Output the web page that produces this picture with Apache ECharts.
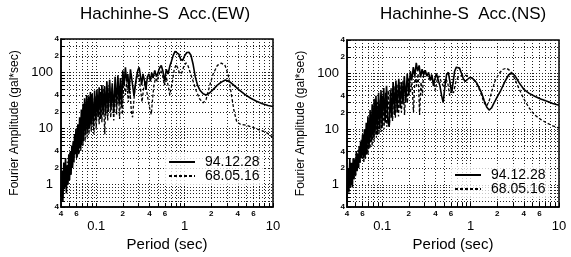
<!DOCTYPE html>
<html lang="en">
<head>
<meta charset="UTF-8">
<title>Hachinhe-S Fourier spectra</title>
<script src="https://cdn.jsdelivr.net/npm/echarts@6/dist/echarts.min.js"></script>
<style>
    html, body { margin: 0; padding: 0; background: #fff; }
    #chart { width: 571px; height: 257px; }
</style>
</head>
<body>
<div id="chart"></div>
<script>
    // 标题和图例
    var titles = ['Hachinhe-S  Acc.(EW)', 'Hachinhe-S  Acc.(NS)'];
    var seriesNames = ['94.12.28', '68.05.16'];

    // 刻度标签
    var xMinorLabels = [0.04, 0.06, 0.2, 0.4, 0.6, 2, 4, 6];
    var xMajorLabels = [0.1, 1, 10];
    var yMinorLabels = [0.4, 2, 4, 20, 40, 200, 400];
    var yMajorLabels = [1, 10, 100];
    var xRange = [0.04, 10];
    var yRange = [0.4, 400];

    // EW: [period (sec), amplitude (gal*sec)]
    var ew94 = [
        [0.040,0.6],[0.041,1.8],[0.042,0.5],[0.043,2.5],[0.044,0.9],[0.045,3],[0.046,0.7],[0.047,2.2],[0.048,1.0],[0.049,3.5],
        [0.050,1.2],[0.051,4],[0.052,1.5],[0.053,5],[0.054,2],[0.055,6],[0.056,2.5],[0.057,8],[0.058,3.5],[0.059,10],
        [0.060,3],[0.062,12],[0.063,3.5],[0.065,16],[0.066,4.5],[0.068,22],[0.069,5],[0.071,28],[0.072,6],[0.074,35],
        [0.076,8],[0.078,40],[0.080,9],[0.082,38],[0.084,10],[0.086,45],[0.088,12],[0.090,42],[0.093,11],[0.096,48],
        [0.099,14],[0.102,50],[0.105,16],[0.108,55],[0.112,15],[0.116,60],[0.120,18],[0.124,58],[0.128,17],[0.132,70],
        [0.137,20],[0.142,75],[0.147,22],[0.152,65],[0.158,19],[0.164,85],[0.170,25],[0.176,90],[0.182,28],[0.188,80],
        [0.194,24],[0.200,110],[0.207,60],[0.214,125],[0.221,70],[0.228,95],[0.236,45],[0.244,115],[0.252,80],[0.260,55],
        [0.268,38],[0.277,60],[0.286,85],[0.296,110],[0.306,125],[0.316,90],[0.327,60],[0.338,95],[0.35,75],[0.365,50],
        [0.38,85],[0.395,95],[0.41,70],[0.425,100],[0.44,80],[0.46,110],[0.48,85],[0.50,100],[0.52,120],[0.545,135],
        [0.57,105],[0.595,70],[0.62,115],[0.65,95],[0.68,130],[0.71,160],[0.74,200],[0.78,240],[0.82,245],[0.86,215],
        [0.90,175],[0.95,165],[1.00,200],[1.06,230],[1.12,232],[1.18,205],[1.25,140],[1.32,85],[1.40,60],[1.50,48],
        [1.62,42],[1.75,40],[1.9,43],[2.1,50],[2.35,60],[2.6,68],[2.9,74],[3.2,70],[3.6,60],[4.1,50],
        [4.8,41],[5.6,35],[6.5,31],[7.6,28],[8.8,26],[10,25]
    ];
    var ew68 = [
        [0.040,0.5],[0.041,1.2],[0.042,0.6],[0.043,1.6],[0.044,0.8],[0.045,2],[0.046,1],[0.047,2.6],[0.048,1.2],[0.049,3],
        [0.050,1.5],[0.051,3.8],[0.052,1.8],[0.053,4.5],[0.054,2.2],[0.055,5.5],[0.056,3],[0.057,7],[0.058,3.5],[0.060,9],
        [0.061,3],[0.063,11],[0.064,3.5],[0.066,14],[0.067,4],[0.069,18],[0.071,5],[0.073,22],[0.075,6],[0.077,26],
        [0.079,7],[0.081,30],[0.083,8],[0.085,32],[0.088,9],[0.091,35],[0.094,8],[0.097,38],[0.100,10],[0.104,40],
        [0.108,12],[0.112,45],[0.116,13],[0.120,50],[0.125,8],[0.130,55],[0.135,14],[0.140,60],[0.146,16],[0.152,55],
        [0.158,14],[0.164,65],[0.170,18],[0.177,70],[0.184,15],[0.191,60],[0.198,18],[0.206,80],[0.214,40],[0.222,70],
        [0.231,30],[0.240,55],[0.250,20],[0.258,16],[0.266,30],[0.275,55],[0.285,75],[0.295,95],[0.306,80],[0.318,50],
        [0.33,30],[0.345,55],[0.36,70],[0.375,45],[0.39,30],[0.405,22],[0.42,18],[0.435,35],[0.45,60],[0.47,80],
        [0.49,70],[0.51,90],[0.535,110],[0.56,95],[0.59,60],[0.62,85],[0.65,60],[0.68,40],[0.70,37],[0.73,70],
        [0.76,110],[0.80,140],[0.84,120],[0.88,95],[0.93,100],[0.98,130],[1.04,150],[1.10,130],[1.17,95],[1.25,70],
        [1.35,48],[1.48,34],[1.62,29],[1.75,33],[1.9,55],[2.1,95],[2.35,135],[2.6,148],[2.85,138],[3.1,95],
        [3.35,45],[3.6,22],[3.9,13],[4.3,12],[5,11.5],[6,10.5],[7,9.5],[8.2,8.8],[9.2,7.8],[10,6.8]
    ];

    // NS
    var ns94 = [
        [0.040,0.5],[0.041,2],[0.042,0.8],[0.043,3],[0.044,1],[0.045,2.5],[0.046,0.9],[0.047,3],[0.048,1.3],[0.049,2.8],
        [0.050,1.5],[0.051,4],[0.052,1.8],[0.053,3.5],[0.054,2],[0.055,5],[0.056,2.5],[0.057,6],[0.058,3],[0.060,8],
        [0.061,3],[0.063,10],[0.064,3],[0.066,13],[0.067,3.5],[0.069,17],[0.071,4.5],[0.073,22],[0.075,6],[0.077,28],
        [0.079,7],[0.081,35],[0.083,8],[0.085,40],[0.088,8],[0.091,45],[0.094,10],[0.097,50],[0.100,11],[0.104,55],
        [0.108,13],[0.112,60],[0.116,14],[0.120,11],[0.124,50],[0.128,16],[0.133,70],[0.138,18],[0.143,75],[0.148,20],
        [0.154,80],[0.160,24],[0.166,70],[0.172,28],[0.178,90],[0.185,30],[0.192,100],[0.200,40],[0.208,110],[0.216,75],
        [0.225,130],[0.234,90],[0.243,155],[0.252,110],[0.262,140],[0.272,85],[0.283,120],[0.295,95],[0.307,115],[0.32,90],
        [0.335,105],[0.35,75],[0.365,95],[0.38,60],[0.395,80],[0.41,100],[0.43,95],[0.45,60],[0.47,40],[0.49,30],
        [0.51,55],[0.535,95],[0.56,105],[0.585,70],[0.61,45],[0.635,70],[0.66,110],[0.69,130],[0.72,135],[0.75,125],
        [0.79,100],[0.83,80],[0.87,72],[0.92,78],[0.97,84],[1.03,84],[1.1,76],[1.17,68],[1.25,55],[1.33,45],
        [1.42,33],[1.52,25],[1.62,22],[1.72,24],[1.85,30],[2.0,38],[2.2,50],[2.45,72],[2.7,95],[2.95,102],
        [3.2,90],[3.55,68],[4.0,52],[4.6,44],[5.3,39],[6.2,35],[7.2,32],[8.5,29],[10,27]
    ];
    var ns68 = [
        [0.040,0.6],[0.041,1.3],[0.042,0.7],[0.043,1.8],[0.044,0.9],[0.045,2.2],[0.046,1],[0.047,2.5],[0.048,1.2],[0.049,3],
        [0.050,1.4],[0.051,3.5],[0.052,1.7],[0.053,4.2],[0.054,2],[0.055,5],[0.056,2.4],[0.058,6.5],[0.059,3],[0.061,8],
        [0.062,2.5],[0.064,10],[0.065,3],[0.067,12],[0.069,3.5],[0.071,15],[0.073,4.5],[0.075,18],[0.077,5],[0.079,22],
        [0.081,6],[0.083,25],[0.086,7],[0.089,30],[0.092,8],[0.095,35],[0.098,9],[0.101,40],[0.105,10],[0.109,45],
        [0.113,11],[0.117,50],[0.121,12],[0.126,55],[0.131,14],[0.136,60],[0.141,16],[0.147,65],[0.153,17],[0.159,70],
        [0.165,20],[0.172,75],[0.179,18],[0.186,60],[0.193,30],[0.200,85],[0.208,45],[0.217,70],[0.226,20],[0.235,90],
        [0.245,60],[0.255,100],[0.265,18],[0.275,70],[0.285,40],[0.295,110],[0.31,100],[0.325,90],[0.34,80],[0.36,95],
        [0.38,70],[0.40,50],[0.42,80],[0.44,90],[0.46,75],[0.49,60],[0.52,80],[0.55,70],[0.58,40],[0.61,50],
        [0.64,45],[0.68,70],[0.72,85],[0.77,90],[0.83,95],[0.9,92],[0.97,88],[1.05,82],[1.13,72],[1.22,58],
        [1.32,42],[1.42,30],[1.52,26],[1.62,32],[1.75,50],[1.9,75],[2.1,100],[2.3,118],[2.55,125],[2.8,112],
        [3.1,85],[3.5,55],[4.0,35],[4.6,24],[5.3,18],[6.2,15],[7.2,13],[8.5,11.5],[10,10.5]
    ];

    var panels = [[ew94, ew68], [ns94, ns68]];
    var grids = [
        { left: 61, top: 39, width: 212, height: 169 },
        { left: 347, top: 40, width: 212, height: 169 }
    ];

    var lg = Math.log10;
    var font = 'Liberation Sans, Arial, sans-serif';

    // 1..9 x 10^k 的网格位置
    function decadeTicks(lo, hi) {
        var out = [];
        for (var k = Math.floor(lg(lo)); k <= Math.ceil(lg(hi)); k++) {
            for (var m = 1; m < 10; m++) {
                var v = m * Math.pow(10, k);
                if (v >= lo * 0.999 && v <= hi * 1.001) out.push(lg(v));
            }
        }
        return out;
    }
    function leadDigit(v) {
        return String(Math.round(Math.pow(10, v - Math.floor(v + 1e-9))));
    }
    function plainNum(v) {
        return String(Number(Math.pow(10, v).toPrecision(2)));
    }

    var xAxes = [], yAxes = [], series = [], legends = [], titleList = [];

    grids.forEach(function (g, i) {
        var xb = xAxes.length, yb = yAxes.length;
        // 数据坐标轴 (对数)
        xAxes.push({ type: 'log', gridIndex: i, min: xRange[0], max: xRange[1], logBase: 10, show: false });
        yAxes.push({ type: 'log', gridIndex: i, min: yRange[0], max: yRange[1], logBase: 10, show: false });
        // 网格线 + 小标签
        xAxes.push({
            type: 'value', gridIndex: i, position: 'bottom',
            min: lg(xRange[0]), max: lg(xRange[1]),
            axisLine: { show: true, onZero: false, lineStyle: { color: '#000', width: 1.5 } },
            axisTick: { show: true, inside: true, length: 4, customValues: decadeTicks(xRange[0], xRange[1]), lineStyle: { color: '#000' } },
            splitLine: { show: true, lineStyle: { color: '#222', type: [1, 2], width: 1 } },
            axisLabel: { customValues: xMinorLabels.map(lg), formatter: leadDigit, fontSize: 8, fontWeight: 'bold', margin: 3, color: '#000', fontFamily: font },
            name: 'Period (sec)', nameLocation: 'middle', nameGap: 30,
            nameTextStyle: { fontSize: 15, color: '#000', fontFamily: font }
        });
        xAxes.push({
            type: 'value', gridIndex: i, position: 'bottom',
            min: lg(xRange[0]), max: lg(xRange[1]),
            axisLine: { show: false }, axisTick: { show: false }, splitLine: { show: false },
            axisLabel: { customValues: xMajorLabels.map(lg), formatter: plainNum, fontSize: 13, margin: 13, color: '#000', fontFamily: font }
        });
        yAxes.push({
            type: 'value', gridIndex: i, position: 'left',
            min: lg(yRange[0]), max: lg(yRange[1]),
            axisLine: { show: true, onZero: false, lineStyle: { color: '#000', width: 1.5 } },
            axisTick: { show: true, inside: true, length: 4, customValues: decadeTicks(yRange[0], yRange[1]), lineStyle: { color: '#000' } },
            splitLine: { show: true, lineStyle: { color: '#222', type: [1, 2], width: 1 } },
            axisLabel: { customValues: yMinorLabels.map(lg), formatter: leadDigit, fontSize: 8, fontWeight: 'bold', margin: 2, color: '#000', fontFamily: font },
            name: 'Fourier Amplitude (gal*sec)', nameLocation: 'middle', nameGap: 40,
            nameTextStyle: { fontSize: 12, color: '#000', fontFamily: font }
        });
        yAxes.push({
            type: 'value', gridIndex: i, position: 'left',
            min: lg(yRange[0]), max: lg(yRange[1]),
            axisLine: { show: false }, axisTick: { show: false }, splitLine: { show: false },
            axisLabel: { customValues: yMajorLabels.map(lg), formatter: plainNum, fontSize: 13, margin: 8, color: '#000', fontFamily: font }
        });

        panels[i].forEach(function (d, j) {
            series.push({
                name: seriesNames[j], type: 'line', xAxisIndex: xb, yAxisIndex: yb,
                data: d, symbol: 'none', smooth: false,
                lineStyle: j === 0 ? { color: '#000', width: 1.6 } : { color: '#000', width: 1.3, type: [3, 2] },
                itemStyle: { color: '#000' }
            });
        });

        legends.push({
            left: g.left + 103, top: i === 0 ? 153 : 166, orient: 'vertical',
            itemGap: 0, itemWidth: 26, itemHeight: 10, padding: [2, 4],
            backgroundColor: 'rgba(255,255,255,0.75)',
            itemStyle: { color: 'rgba(0,0,0,0)', borderWidth: 0, opacity: 0 },
            data: seriesNames,
            textStyle: { fontSize: 14, color: '#000', fontFamily: font, padding: [0, 0, 0, 5] }
        });
        titleList.push({
            text: titles[i], left: i === 0 ? 80 : 380, top: 6, padding: 0,
            textStyle: { fontSize: 17, fontWeight: 'normal', color: '#000', fontFamily: font }
        });
    });

    var chart = echarts.init(document.getElementById('chart'), null, { renderer: 'canvas' });
    chart.setOption({
        animation: false,
        backgroundColor: '#fff',
        title: titleList,
        legend: legends,
        grid: grids.map(function (g) {
            return { left: g.left, top: g.top, width: g.width, height: g.height, show: true, borderColor: '#000', borderWidth: 1.5, backgroundColor: 'transparent' };
        }),
        xAxis: xAxes,
        yAxis: yAxes,
        series: series
    });
</script>
</body>
</html>
